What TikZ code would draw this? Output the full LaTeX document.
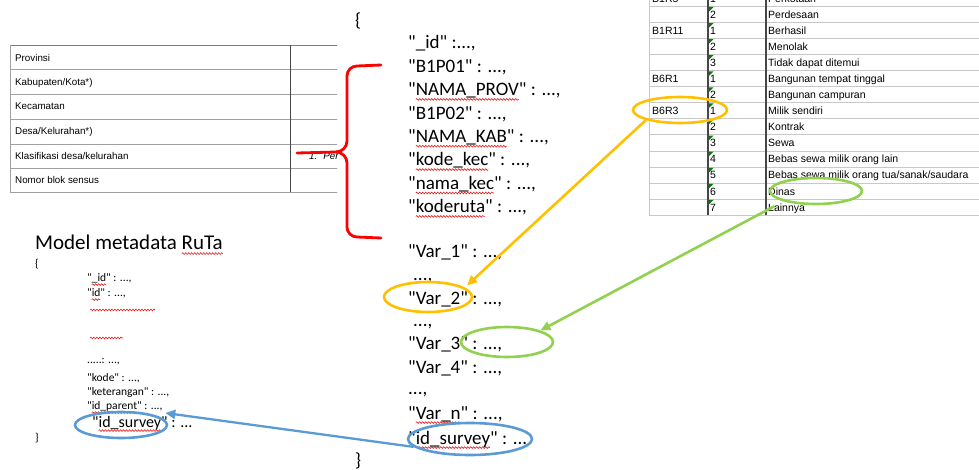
\documentclass[tikz,border=0pt]{standalone}
\usepackage{fontspec}
\setmainfont{Carlito}[Ligatures=TeXOff]
\newfontfamily\arialf{Liberation Sans}[Ligatures=TeXOff]
\usetikzlibrary{arrows.meta,calc,decorations.pathmorphing,shapes.geometric}

\definecolor{spellred}{RGB}{230,30,30}
\definecolor{orangeC}{HTML}{FFC000}
\definecolor{greenC}{HTML}{92D050}
\definecolor{blueC}{HTML}{5B9BD5}
\definecolor{gridgray}{RGB}{200,200,200}
\definecolor{rulegray}{RGB}{160,160,160}
\definecolor{darkrule}{RGB}{70,70,70}
\definecolor{markgreen}{RGB}{0,128,0}

% red wavy spell-check underline under a word
\newsavebox\spellbox
\newlength\spellw
\newcommand\spell[1]{%
  \sbox\spellbox{#1}\setlength\spellw{\wd\spellbox}%
  \leavevmode\rlap{\tikz[overlay,x=1pt,y=1pt]\draw[spellred,line width=0.6pt,decorate,
      decoration={snake,amplitude=0.9pt,segment length=3pt}]
      (0pt,-3.6pt) -- (\spellw,-3.6pt);}%
  \usebox\spellbox}

\begin{document}
\begin{tikzpicture}[x=1pt,y=-1pt,
  json/.style={anchor=base west, inner sep=0pt, font=\fontsize{19}{23}\selectfont},
  small/.style={anchor=base west, inner sep=0pt, font=\fontsize{11.5}{14}\selectfont},
  cell/.style={anchor=base west, inner sep=0pt, font=\arialf\fontsize{10.5}{12}\selectfont},
  lcell/.style={anchor=base west, inner sep=0pt, font=\arialf\fontsize{9.8}{12}\selectfont},
  ring/.style={ellipse, draw, line width=2.6pt, inner sep=0pt},
  link/.style={line width=2.6pt, -{Triangle[length=10pt,width=9pt]}},
  wave/.style={spellred, line width=0.6pt, decorate, decoration={snake, amplitude=0.9pt, segment length=3pt}},
  bracepath/.style={red, line width=2.8pt, line cap=round, line join=round}
]
\useasboundingbox (0,0) rectangle (979,470);

% ---------- form table (left, top) ----------
\begin{scope}
  \clip (0,0) rectangle (337,200);
  \draw[darkrule!70, line width=0.9pt] (10,45) -- (345,45);
  \foreach \yy in {69.5,94,119,144,168,192}
    \draw[rulegray, line width=0.8pt] (10,\yy) -- (345,\yy);
  \draw[rulegray, line width=0.8pt] (10.5,45) -- (10.5,192);
  \draw[darkrule, line width=1pt] (290,45) -- (290,192);
  \foreach \yy/\t [count=\i] in {61.5/Provinsi, 85.5/{Kabupaten/Kota*)}, 109.5/Kecamatan,
      134.5/{Desa/Kelurahan*)}, 159.5/{Klasifikasi desa/kelurahan}, 183.5/Nomor blok sensus}
    \node[lcell] (f\i) at (15,\yy) {\t};
  \node[lcell, font=\arialf\itshape\fontsize{9.8}{12}\selectfont] (fval) at (309,160) {1.\hspace{6pt}Per};
\end{scope}

% red brace grouping the location fields
\draw[bracepath] (381,65) -- (357,66) to[out=180,in=90] (347,76) -- (347,141)
  to[out=-90,in=0] (336,152) -- (297,153);
\draw[bracepath] (336,152) to[out=0,in=90] (347,163) -- (347,227)
  to[out=-90,in=180] (357,237) -- (381,238);

% ---------- code list (right, top) ----------
\begin{scope}
  \clip (640,0) rectangle (979,225);
  \foreach \k in {-1,...,13}
    \draw[gridgray, line width=0.7pt] (649,{6.2+16.08*\k}) -- (979,{6.2+16.08*\k});
  \draw[gridgray, line width=0.8pt] (649.5,0) -- (649.5,215.3);
  \draw[darkrule, line width=1.3pt] (708,0) -- (708,215.3);
  \draw[darkrule, line width=1.3pt] (766,0) -- (766,215.3);
  \foreach \code/\num/\lab [count=\k from -1] in {B1R5/1/Perkotaan, /2/Perdesaan,
      B1R11/1/Berhasil, /2/Menolak, /3/Tidak dapat ditemui,
      B6R1/1/Bangunan tempat tinggal, /2/Bangunan campuran,
      B6R3/1/Milik sendiri, /2/Kontrak, /3/Sewa, /4/Bebas sewa milik orang lain,
      /5/{Bebas sewa milik orang tua/sanak/saudara}, /6/Dinas, /7/Lainnya} {
    \node[cell] (rc\k) at (652,{18.2+16.08*\k}) {\code};
    \node[cell] (rn\k) at (710,{18.2+16.08*\k}) {\num};
    \node[cell] (rl\k) at (768,{18.2+16.08*\k}) {\lab};
    \fill[markgreen] (709,{7+16.08*\k}) -- (713.5,{7+16.08*\k}) -- (709,{11.5+16.08*\k}) -- cycle;
  }
\end{scope}

% ---------- record structure (middle) ----------
\node[json] (mOpen) at (355,27) {\{};
\node[json] (k0) at (408,49) {"\_id" :...,};
\node[json] (k1) at (408,72.4) {"B1P01" : ...,};
\node[json] (k2) at (408,95.8) {"\spell{NAMA\_PROV}" : ...,};
\node[json] (k3) at (408,119.2) {"B1P02" : ...,};
\node[json] (k4) at (408,142.6) {"\spell{NAMA\_KAB}" : ...,};
\node[json] (k5) at (408,166) {"\spell{kode\_kec}" : ...,};
\node[json] (k6) at (408,189.4) {"\spell{nama\_kec}" : ...,};
\node[json] (k7) at (408,212.8) {"\spell{koderuta}" : ...,};
\node[json] (v1) at (408,258) {"Var\_1" : ...,};
\node[json] (d1) at (413,280) {...,};
\node[json] (v2) at (408,304) {"Var\_2" : ...,};
\node[json] (d2) at (413,326) {...,};
\node[json] (v3) at (408,349) {"Var\_3" : ...,};
\node[json] (v4) at (408,373) {"Var\_4" : ...,};
\node[json] (d3) at (408,394) {...,};
\node[json] (vn) at (408,419) {"\spell{Var\_n}" : ...,};
\node[json] (vid) at (408,444) {"\spell{id\_survey}" : ...};
\node[json] (mClose) at (355,466) {\}};

% ---------- RuTa metadata model (left, bottom) ----------
\node[anchor=base west, inner sep=0pt, font=\fontsize{21}{25}\selectfont] (title) at (35,250) {Model metadata \spell{RuTa}};
\node[small] (sOpen) at (35,267) {\{};
\node[small] (s1) at (87,281) {"\spell{\_id}" : ...,};
\node[small] (s2) at (87,296) {"\spell{id}" : ...,};
\draw[wave] (90,310) -- (155,310);
\draw[wave] (90,338) -- (123,338);
\node[small] (s3) at (87,363) {.....: ...,};
\node[small] (s4) at (87,381) {"kode" : ...,};
\node[small] (s5) at (87,395) {"keterangan" : ...,};
\node[small] (s6) at (87,409) {"\spell{id\_parent}" : ...,};
\node[anchor=base west, inner sep=0pt, font=\fontsize{16}{19}\selectfont] (s7) at (92,427) {"\spell{id\_survey}" : ...};
\node[small] (sClose) at (35,441) {\}};

% ---------- highlight rings ----------
\node[ring, draw=orangeC, minimum width=94pt, minimum height=26pt] (o1) at (680,110) {};
\node[ring, draw=orangeC, minimum width=88pt, minimum height=30pt] (o2) at (428,297) {};
\node[ring, draw=greenC, minimum width=92pt, minimum height=26pt] (g1) at (816,191) {};
\node[ring, draw=greenC, minimum width=92pt, minimum height=30pt] (g2) at (507,342) {};
\node[ring, draw=blueC, minimum width=92pt, minimum height=26pt] (b1) at (121,425) {};
\node[ring, draw=blueC, minimum width=124pt, minimum height=32pt] (b2) at (470,439) {};

% ---------- connectors ----------
\draw[link, orangeC] (o1.south west) -- ($(o2.north east)+(7,0)$);
\draw[link, greenC] ($(g1.south west)+(-8,5)$) -- (g2.north east);
\draw[link, blueC, line width=2.3pt] (b2.188) -- ($(b1.east)+(-3,-12)$);
\end{tikzpicture}
\end{document}
